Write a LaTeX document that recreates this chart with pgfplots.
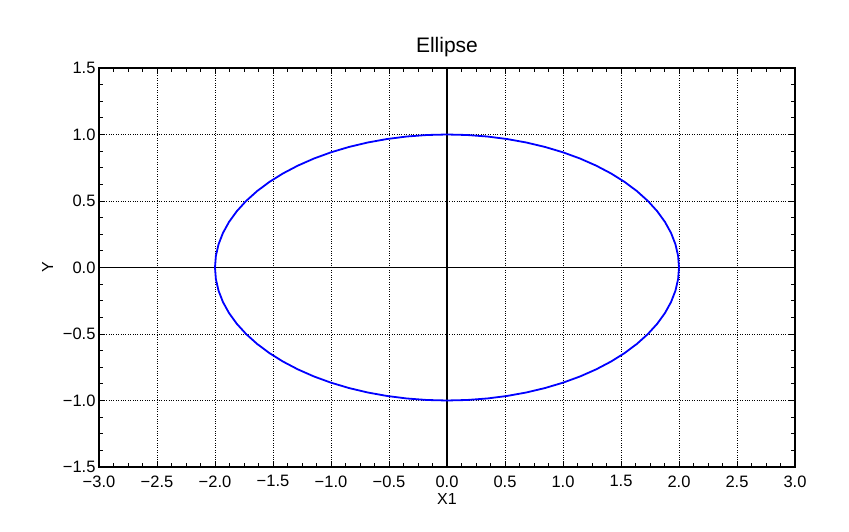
\documentclass[border=0pt]{standalone}
\usepackage{pgfplots}
\pgfplotsset{compat=1.18}
\usepackage{fontspec}
\setmainfont{Liberation Sans}
\begin{document}
\begin{tikzpicture}[x=1pt,y=1pt]
\path[use as bounding box] (0,0) rectangle (849,532);
\begin{axis}[
  at={(99pt,65pt)}, anchor=south west,
  scale only axis, width=696pt, height=399pt,
  xmin=-3, xmax=3, ymin=-1.5, ymax=1.5,
  xtick={-3,-2.5,...,3}, ytick={-1.5,-1,...,1.5},
  xticklabels={−3.0,−2.5,−2.0,−1.5,−1.0,−0.5,0.0,0.5,1.0,1.5,2.0,2.5,3.0},
  yticklabels={−1.5,−1.0,−0.5,0.0,0.5,1.0,1.5},
  minor tick num=3,
  tick align=inside,
  major tick length=6pt, minor tick length=4pt,
  every tick/.style={black, line width=0.8pt},
  grid=major,
  major grid style={black, dotted, line width=0.7pt},
  axis line style={line width=1.3pt},
  tick label style={font=\fontsize{16.5}{19}\selectfont},
  xticklabel style={yshift=-5pt},
  label style={font=\fontsize{16}{19}\selectfont},
  xlabel={X1}, ylabel={Y},
  xlabel style={yshift=1pt},
  ylabel style={yshift=3pt},
  title={Ellipse},
  title style={font=\fontsize{21}{24}\selectfont, yshift=2pt},
  clip=true,
]
\addplot[black, line width=1.1pt, forget plot] coordinates {(-3,0) (3,0)};
\addplot[black, line width=1.1pt, forget plot] coordinates {(0,-1.5) (0,1.5)};
\addplot[blue, line width=1.8pt] coordinates {
(2,0) (1.9924,0.0872) (1.9696,0.1736) (1.9319,0.2588) (1.8794,0.3420) (1.8126,0.4226) (1.7321,0.5) (1.6383,0.5736) (1.5321,0.6428) (1.4142,0.7071) (1.2856,0.7660) (1.1472,0.8192) (1.0,0.8660) (0.8452,0.9063) (0.6840,0.9397) (0.5176,0.9659) (0.3473,0.9848) (0.1743,0.9962) (0,1)
(-0.1743,0.9962) (-0.3473,0.9848) (-0.5176,0.9659) (-0.6840,0.9397) (-0.8452,0.9063) (-1.0,0.8660) (-1.1472,0.8192) (-1.2856,0.7660) (-1.4142,0.7071) (-1.5321,0.6428) (-1.6383,0.5736) (-1.7321,0.5) (-1.8126,0.4226) (-1.8794,0.3420) (-1.9319,0.2588) (-1.9696,0.1736) (-1.9924,0.0872) (-2,0)
(-1.9924,-0.0872) (-1.9696,-0.1736) (-1.9319,-0.2588) (-1.8794,-0.3420) (-1.8126,-0.4226) (-1.7321,-0.5) (-1.6383,-0.5736) (-1.5321,-0.6428) (-1.4142,-0.7071) (-1.2856,-0.7660) (-1.1472,-0.8192) (-1.0,-0.8660) (-0.8452,-0.9063) (-0.6840,-0.9397) (-0.5176,-0.9659) (-0.3473,-0.9848) (-0.1743,-0.9962) (0,-1)
(0.1743,-0.9962) (0.3473,-0.9848) (0.5176,-0.9659) (0.6840,-0.9397) (0.8452,-0.9063) (1.0,-0.8660) (1.1472,-0.8192) (1.2856,-0.7660) (1.4142,-0.7071) (1.5321,-0.6428) (1.6383,-0.5736) (1.7321,-0.5) (1.8126,-0.4226) (1.8794,-0.3420) (1.9319,-0.2588) (1.9696,-0.1736) (1.9924,-0.0872) (2,0)
};
\end{axis}
\end{tikzpicture}
\end{document}
